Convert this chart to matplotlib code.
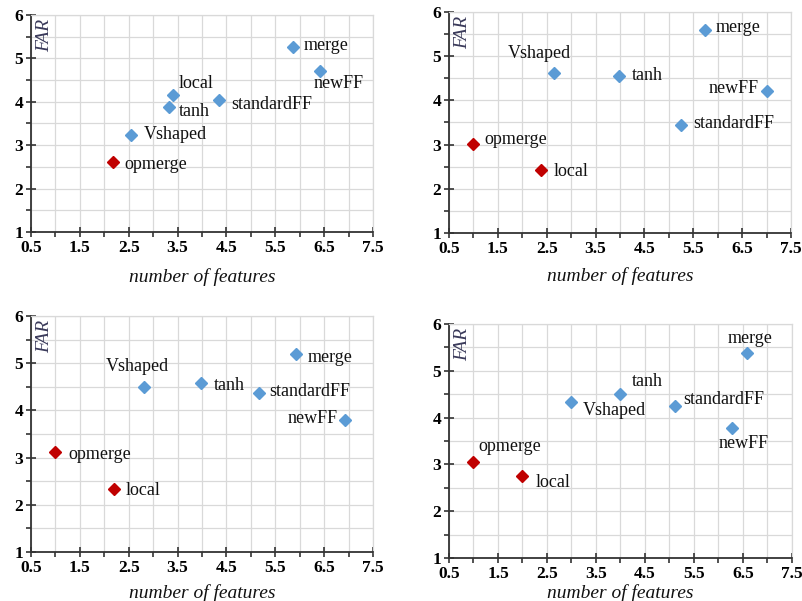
import matplotlib
matplotlib.use("Agg")
import matplotlib.pyplot as plt
from matplotlib.ticker import MultipleLocator, FixedLocator
import numpy

# data
names = ["merge", "newFF", "local", "tanh", "standardFF", "Vshaped", "opmerge"]

p1_x = [5.86, 6.42, 3.41, 3.32, 4.35, 2.54, 2.17]
p1_y = [5.26, 4.70, 4.16, 3.89, 4.04, 3.24, 2.61]

p2_x = [5.75, 7.01, 2.38, 3.97, 5.25, 2.65, 1.00]
p2_y = [5.60, 4.22, 2.43, 4.56, 3.45, 4.62, 3.01]

p3_x = [5.92, 6.93, 2.19, 3.98, 5.17, 2.82, 1.00]
p3_y = [5.19, 3.80, 2.33, 4.57, 4.37, 4.50, 3.11]

p4_x = [6.58, 6.28, 2.00, 4.00, 5.12, 3.00, 1.00]
p4_y = [5.37, 3.77, 2.76, 4.50, 4.25, 4.33, 3.05]

# which points are red in each panel
p1_red = ["opmerge"]
p2_red = ["opmerge", "local"]
p3_red = ["opmerge", "local"]
p4_red = ["opmerge", "local"]

x_ticks = [0.5, 1.5, 2.5, 3.5, 4.5, 5.5, 6.5, 7.5]
x_tick_labels = ["0.5", "1.5", "2.5", "3.5", "4.5", "5.5", "6.5", "7.5"]
y_ticks = [1, 2, 3, 4, 5, 6]
y_tick_labels = ["1", "2", "3", "4", "5", "6"]

BLUE = "#5b9bd5"
RED = "#c00000"
SERIF = ["Liberation Serif", "DejaVu Serif"]

# label placement per panel: (dx, dy) in pixels, ha
p1_lab = {"merge": (11, 2, "left"), "newFF": (18, -12, "center"),
          "local": (5, 11, "left"), "tanh": (10, -5, "left"),
          "standardFF": (12, -4, "left"), "Vshaped": (13, 0, "left"),
          "opmerge": (12, -2, "left")}
p2_lab = {"merge": (10, 2, "left"), "newFF": (-8, 2, "right"),
          "local": (13, -2, "left"), "tanh": (13, 0, "left"),
          "standardFF": (12, 1, "left"), "Vshaped": (-15, 19, "center"),
          "opmerge": (11, 5, "left")}
p3_lab = {"merge": (12, -3, "left"), "newFF": (-7, 1, "right"),
          "local": (12, -1, "left"), "tanh": (13, -2, "left"),
          "standardFF": (10, 1, "left"), "Vshaped": (-7, 20, "center"),
          "opmerge": (13, -2, "left")}
p4_lab = {"merge": (3, 15, "center"), "newFF": (11, -15, "center"),
          "local": (13, -7, "left"), "tanh": (11, 13, "left"),
          "standardFF": (8, 6, "left"), "Vshaped": (11, -8, "left"),
          "opmerge": (5, 16, "left")}

W, H = 803, 601
fig = plt.figure(figsize=(W / 100, H / 100), dpi=100)

# axes boxes in pixels: left, top, right, bottom, xlabel gap
boxes = [(31, 15, 373, 232, 45), (449, 12, 791, 233, 43),
         (31, 316, 373, 552, 41), (449, 324, 792, 558, 35)]
panels = [(p1_x, p1_y, p1_red, p1_lab), (p2_x, p2_y, p2_red, p2_lab),
          (p3_x, p3_y, p3_red, p3_lab), (p4_x, p4_y, p4_red, p4_lab)]

tick_font = dict(family=SERIF, fontweight="bold", fontsize=12.5)

for (l, t, r, b, gap), (xs, ys, reds, lab) in zip(boxes, panels):
    ax = fig.add_axes([l / W, 1 - b / H, (r - l) / W, (b - t) / H])
    ax.set_xlim(0.5, 7.5)
    ax.set_ylim(1, 6)

    ax.set_xticks(x_ticks, labels=x_tick_labels, **tick_font)
    ax.set_yticks(y_ticks, labels=y_tick_labels, **tick_font)
    ax.xaxis.set_minor_locator(FixedLocator(numpy.arange(1, 8)))
    ax.yaxis.set_minor_locator(MultipleLocator(0.5))
    ax.grid(True, which="both", color="#d9d9d9", lw=0.9, zorder=0)
    ax.set_axisbelow(True)

    ax.tick_params(which="major", direction="inout", length=7, width=1.2,
                   color="#333333", pad=2)
    ax.tick_params(which="minor", direction="out", length=3.5, width=1.2,
                   color="#333333")

    for s in ["left", "bottom"]:
        ax.spines[s].set_color("#333333")
        ax.spines[s].set_linewidth(1.3)
    for s in ["top", "right"]:
        ax.spines[s].set_color("#d9d9d9")
        ax.spines[s].set_linewidth(0.9)

    for n, x, y in zip(names, xs, ys):
        c = RED if n in reds else BLUE
        ax.plot(x, y, marker="D", ms=6.3, color=c, ls="none", zorder=3)
        dx, dy, ha = lab[n]
        ax.annotate(n, (x, y), xytext=(dx, dy), textcoords="offset pixels",
                    ha=ha, va="center", fontsize=13, family=SERIF,
                    color="#111111")

    ax.annotate("FAR", (0, 1), xycoords="axes fraction", xytext=(14, -4),
                textcoords="offset pixels", rotation=90, ha="center",
                va="top", fontsize=14, style="italic", family=SERIF,
                color="#3a3a5a")
    ax.annotate("number of features", (0.5, 0), xycoords="axes fraction",
                xytext=(0, -gap), textcoords="offset pixels", ha="center",
                va="center", fontsize=14, style="italic", family=SERIF,
                color="#111111")

fig.savefig("out.png", dpi=100, facecolor="white")
